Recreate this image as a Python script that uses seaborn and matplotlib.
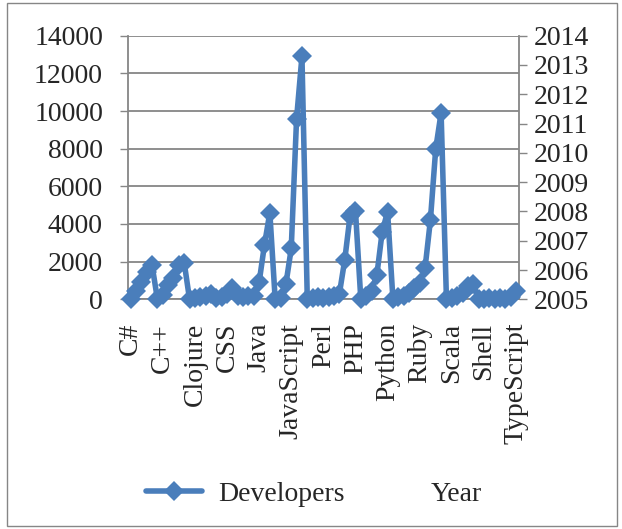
import matplotlib
matplotlib.use("Agg")
import matplotlib.pyplot as plt
from matplotlib.lines import Line2D
from matplotlib.patches import Rectangle
import numpy as np
import pandas as pd
import seaborn as sns

# Languages in table order and how many yearly rows each one has
languages = ["C#", "C++", "Clojure", "CSS", "Java", "JavaScript", "Perl", "PHP",
             "Python", "Ruby", "Scala", "Shell", "TypeScript"]
rows_per_language = [5, 6, 6, 6, 4, 6, 6, 4, 6, 10, 6, 6, 2]

# Developers per row, grouped by language
dev_csharp = [0, 450, 900, 1450, 1800]
dev_cpp = [0, 250, 750, 1150, 1800, 1950]
dev_clojure = [0, 50, 100, 150, 300, 50]
dev_css = [100, 300, 600, 150, 100, 200]
dev_java = [150, 900, 2900, 4600]
dev_javascript = [0, 50, 800, 2700, 9600, 12900]
dev_perl = [0, 50, 100, 50, 100, 150]
dev_php = [300, 2100, 4450, 4700]
dev_python = [0, 150, 450, 1300, 3600, 4650]
dev_ruby = [0, 100, 200, 350, 600, 850, 1650, 4200, 8000, 9900]
dev_scala = [0, 50, 150, 350, 700, 800]
dev_shell = [0, 0, 50, 0, 50, 0]
dev_typescript = [100, 450]

developers = (dev_csharp + dev_cpp + dev_clojure + dev_css + dev_java + dev_javascript
              + dev_perl + dev_php + dev_python + dev_ruby + dev_scala + dev_shell
              + dev_typescript)
categories = [lang for lang, n in zip(languages, rows_per_language) for _ in range(n)]

dev_ticks = list(range(0, 14001, 2000))
year_ticks = list(range(2005, 2015))
label_step = 6

BLUE = "#4A7EBB"
GRID = "#868686"
FONT = "Liberation Serif"
FS = 20
LW = 4.0
MS = 10

sns.set_theme(style="white")
plt.rcParams["font.family"] = [FONT, "DejaVu Serif"]

df = pd.DataFrame({"row": np.arange(len(developers)),
                   "Developers": developers,
                   "Language": categories})

fig = plt.figure(figsize=(6.22, 5.29), dpi=100)
fig.patch.set_facecolor("white")
ax = fig.add_axes([128 / 622, 1 - 299.3 / 529, (518.7 - 128) / 622, (299.3 - 35.7) / 529])

sns.lineplot(data=df, x="row", y="Developers", ax=ax, color=BLUE, linewidth=LW,
             marker="D", markersize=MS, markeredgewidth=0, legend=False,
             clip_on=False, zorder=5)

n = len(developers)
ax.set_xlim(-0.5, n - 0.5)
ax.set_ylim(0, 14000)
ax.set_yticks(dev_ticks)
ax.set_yticklabels([str(v) for v in dev_ticks], fontsize=FS, fontfamily=FONT)
ax.set_xlabel("")
ax.set_ylabel("")

# Category labels every few rows, tick marks on every category boundary
label_rows = list(range(0, n, label_step))
ax.set_xticks(label_rows)
ax.set_xticklabels([categories[i] for i in label_rows], rotation=90,
                   fontsize=FS, fontfamily=FONT)
ax.set_xticks(np.arange(-0.5, n, 1.0), minor=True)
ax.tick_params(axis="x", which="major", length=0, pad=17)
ax.tick_params(axis="x", which="minor", length=5, width=1, color=GRID, direction="out")
ax.tick_params(axis="y", which="major", length=6, width=1, color=GRID,
               direction="out", pad=12, left=True)

ax.yaxis.grid(True, color=GRID, linewidth=1.3)
ax.xaxis.grid(False)
ax.set_axisbelow(True)
for side in ["top", "right"]:
    ax.spines[side].set_visible(False)
for side in ["left", "bottom"]:
    ax.spines[side].set_color(GRID)
    ax.spines[side].set_linewidth(1.3)

# Secondary axis for the year scale
ax2 = ax.twinx()
ax2.set_ylim(2005, 2014)
ax2.set_yticks(year_ticks)
ax2.set_yticklabels([str(y) for y in year_ticks], fontsize=FS, fontfamily=FONT)
ax2.tick_params(axis="y", length=6, width=1, color=GRID, direction="out", pad=5, right=True)
ax2.grid(False)
for side in ["top", "left", "bottom"]:
    ax2.spines[side].set_visible(False)
ax2.spines["right"].set_color(GRID)
ax2.spines["right"].set_linewidth(1.3)
ax.set_zorder(ax2.get_zorder() + 1)
ax.patch.set_visible(False)

handles = [Line2D([], [], color=BLUE, linewidth=LW, marker="D", markersize=MS,
                  markeredgewidth=0),
           Line2D([], [], linestyle="none")]
fig.legend(handles, ["Developers", "Year"], loc="center", bbox_to_anchor=(0.505, 0.066),
           ncol=2, frameon=False, handlelength=2.0, handletextpad=0.6,
           columnspacing=0.5, prop={"family": FONT, "size": FS})

# Chart area border
fig.patches.append(Rectangle((7 / 622, 3 / 529), 610 / 622, 523 / 529,
                             transform=fig.transFigure, fill=False,
                             edgecolor=GRID, linewidth=1.0))

fig.savefig("out.png", dpi=100, facecolor="white")
